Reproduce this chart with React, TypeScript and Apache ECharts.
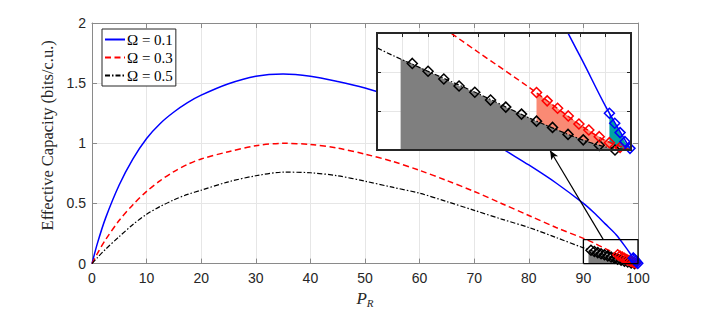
import React, { useEffect, useRef } from "react";
import * as echarts from "echarts";

// ---- data ----
const P_R = [0, 1, 2.5, 5, 7.5, 10, 12.5, 15, 17.5, 20, 25, 30, 35, 40, 45, 50, 55, 60, 65, 70, 75, 80, 85, 90, 92, 94, 96, 98, 99, 100];
const omega01 = [0, 0.17, 0.38, 0.655, 0.87, 1.04, 1.165, 1.26, 1.338, 1.4, 1.495, 1.558, 1.577, 1.558, 1.514, 1.46, 1.39, 1.32, 1.23, 1.11, 0.96, 0.82, 0.67, 0.5, 0.42, 0.33, 0.24, 0.12, 0.056, 0];
const omega03 = [0, 0.085, 0.2, 0.36, 0.49, 0.6, 0.69, 0.765, 0.825, 0.87, 0.93, 0.98, 1.0, 0.99, 0.96, 0.91, 0.85, 0.775, 0.69, 0.6, 0.5, 0.4, 0.3, 0.21, 0.17, 0.125, 0.08, 0.032, 0.012, 0];
const omega05 = [0, 0.05, 0.12, 0.225, 0.325, 0.41, 0.475, 0.53, 0.575, 0.61, 0.68, 0.73, 0.76, 0.755, 0.73, 0.685, 0.635, 0.585, 0.515, 0.443, 0.37, 0.3, 0.217, 0.131, 0.101, 0.072, 0.041, 0.014, 0.004, 0];

const seriesNames = ["Ω = 0.1", "Ω = 0.3", "Ω = 0.5"];

// markers (diamonds) in the zoomed region
const blackMarkX = [91.39, 92.01, 92.63, 93.23, 93.85, 94.47, 95.07, 95.69, 96.28, 96.91, 97.52, 98.12, 98.75, 99.37];
const blackMarkY = [0.111, 0.101, 0.091, 0.082, 0.074, 0.064, 0.055, 0.046, 0.037, 0.029, 0.02, 0.013, 0.006, 0.0];
const redMarkX = [96.28, 96.7, 97.11, 97.53, 97.95, 98.34, 98.75, 99.15, 99.57];
const redMarkY = [0.0737, 0.063, 0.0536, 0.0437, 0.0334, 0.0257, 0.0171, 0.0094, 0.0034];
const blueMarkX = [99.15, 99.36, 99.57, 99.76, 99.96];
const blueMarkY = [0.0471, 0.0343, 0.0223, 0.0107, 0.0021];
// gray shaded region starts here (on the Ω = 0.5 curve)
const grayStart = [90.93, 0.117];

// zoom box and arrow (data coordinates of the main axes)
const zoomBoxX = [90, 100];
const zoomBoxY = [0, 0.2];
const arrowFrom = [93.6, 0.203];
const arrowTo = [83.9, 0.94];

// axis ranges
const mainXTicks = { min: 0, max: 100, interval: 10 };
const mainYTicks = { min: 0, max: 2, interval: 0.5 };
const insetXTicks = { min: 90, max: 100, interval: 1 };
const insetYTicks = { min: 0, max: 0.15, interval: 0.05 };

const pairs = (xs: number[], ys: number[]) => xs.map((x, i) => [x, ys[i]]);

const MAIN = { left: 92, top: 23, width: 546, height: 245 };
const INSET = { left: 377, top: 33, width: 254, height: 117 };

const AXIS_COLOR = "#262626";
const FRAME_COLOR = "#8a8a8a";
const GRID_COLOR = "#e6e6e6";

export default function App() {
  const ref = useRef<HTMLDivElement>(null);

  useEffect(() => {
    if (!ref.current) return;
    const chart = echarts.init(ref.current, undefined, { renderer: "svg" });

    const lineStyles = [
      { color: "#0000ff", width: 1.5, type: "solid" as any },
      { color: "#ff0000", width: 1.5, type: [6, 3.5] as any },
      { color: "#000000", width: 1.2, type: [5, 2, 1.5, 2] as any },
    ];
    const curveData = [pairs(P_R, omega01), pairs(P_R, omega03), pairs(P_R, omega05)];

    const mkAxes = (grid: number, t: any, pos: string, isX: boolean, inset: boolean, showLabel: boolean, split: boolean) => ({
      type: "value",
      gridIndex: grid,
      position: pos,
      min: t.min,
      max: t.max,
      interval: t.interval,
      z: inset ? 6 : 0,
      axisLine: { show: true, onZero: false, lineStyle: { color: inset ? AXIS_COLOR : FRAME_COLOR, width: 1 } },
      axisTick: { show: true, inside: true, length: inset ? 4 : 5, lineStyle: { color: inset ? AXIS_COLOR : FRAME_COLOR } },
      axisLabel: showLabel
        ? { show: true, color: AXIS_COLOR, fontFamily: "Liberation Sans", fontSize: 14, margin: isX ? 7 : 6 }
        : { show: false },
      splitLine: { show: split, lineStyle: { color: GRID_COLOR, width: 1 } },
    });

    const xAxis: any[] = [
      {
        ...mkAxes(0, mainXTicks, "bottom", true, false, true, true),
        name: "{i|P}{s|R}",
        nameLocation: "middle",
        nameGap: 23,
        nameTextStyle: {
          rich: {
            i: { fontFamily: "Liberation Serif", fontStyle: "italic", fontSize: 17, color: AXIS_COLOR },
            s: { fontFamily: "Liberation Serif", fontStyle: "italic", fontSize: 11, color: AXIS_COLOR, padding: [9, 0, 0, 0] },
          },
        },
      },
      mkAxes(0, mainXTicks, "top", true, false, false, false),
      mkAxes(1, insetXTicks, "bottom", true, true, false, true),
      mkAxes(1, insetXTicks, "top", true, true, false, false),
    ];
    const yAxis: any[] = [
      {
        ...mkAxes(0, mainYTicks, "left", false, false, true, true),
        name: "Effective Capacity (bits/c.u.)",
        nameLocation: "middle",
        nameGap: 30,
        nameRotate: 90,
        nameTextStyle: { fontFamily: "Liberation Serif", fontSize: 16.5, color: AXIS_COLOR, padding: [0, 0, 0, 16] },
      },
      mkAxes(0, mainYTicks, "right", false, false, false, false),
      mkAxes(1, insetYTicks, "left", false, true, false, true),
      mkAxes(1, insetYTicks, "right", false, true, false, false),
    ];

    const series: any[] = [];
    // two copies: main (axes 0) and inset (axes 2)
    [0, 2].forEach((ax) => {
      const inset = ax === 2;
      const z = inset ? 7 : 2;
      curveData.forEach((d, i) => {
        series.push({
          type: "line",
          name: seriesNames[i],
          xAxisIndex: ax,
          yAxisIndex: ax,
          data: d,
          smooth: 0.3,
          showSymbol: false,
          symbol: "none",
          lineStyle: lineStyles[i],
          itemStyle: { color: lineStyles[i].color },
          clip: true,
          z,
          silent: true,
        });
      });
      const areas = [
        { data: pairs(blueMarkX, blueMarkY), color: "#00a3a3" },
        { data: pairs(redMarkX, redMarkY), color: "#fa8a74" },
        { data: [grayStart, ...pairs(blackMarkX, blackMarkY)], color: "#7f7f7f" },
      ];
      areas.forEach((a) => {
        series.push({
          type: "line",
          xAxisIndex: ax,
          yAxisIndex: ax,
          data: a.data,
          showSymbol: false,
          symbol: "none",
          lineStyle: { width: 0, color: a.color },
          areaStyle: { color: a.color, opacity: 1 },
          clip: true,
          z,
          silent: true,
        });
      });
      const marks = [
        { data: pairs(blackMarkX, blackMarkY), color: "#000000" },
        { data: pairs(redMarkX, redMarkY), color: "#ff0000" },
        { data: pairs(blueMarkX, blueMarkY), color: "#0000ff" },
      ];
      marks.forEach((m) => {
        series.push({
          type: "scatter",
          xAxisIndex: ax,
          yAxisIndex: ax,
          data: m.data,
          symbol: "diamond",
          symbolSize: 10,
          itemStyle: { color: "rgba(0,0,0,0)", borderColor: m.color, borderWidth: 1.5, opacity: 1 },
          clip: false,
          z,
          silent: true,
        });
      });
    });

    // zoom rectangle + arrow on main axes
    series.push({
      type: "line",
      xAxisIndex: 0,
      yAxisIndex: 0,
      data: [
        [zoomBoxX[0], zoomBoxY[0]],
        [zoomBoxX[0], zoomBoxY[1]],
        [zoomBoxX[1], zoomBoxY[1]],
        [zoomBoxX[1], zoomBoxY[0]],
        [zoomBoxX[0], zoomBoxY[0]],
      ],
      showSymbol: false,
      symbol: "none",
      lineStyle: { color: "#000", width: 1.3 },
      clip: false,
      z: 3,
      silent: true,
      markLine: {
        silent: true,
        symbol: ["none", "arrow"],
        symbolSize: [6, 9],
        label: { show: false },
        lineStyle: { color: "#000", width: 1.2, type: "solid" },
        data: [[{ coord: arrowFrom }, { coord: arrowTo }]],
      },
    });

    chart.setOption({
      animation: false,
      backgroundColor: "#ffffff",
      grid: [
        { ...MAIN, containLabel: false },
        { ...INSET, containLabel: false },
      ],
      xAxis,
      yAxis,
      legend: {
        data: seriesNames,
        orient: "vertical",
        left: 102,
        top: 29,
        itemWidth: 20,
        itemHeight: 12,
        itemGap: 3,
        padding: [3, 3, 3, 2],
        backgroundColor: "#ffffff",
        borderColor: "#262626",
        borderWidth: 1,
        itemStyle: { opacity: 0 },
        textStyle: { fontFamily: "Liberation Serif", fontSize: 15, color: "#000", padding: [0, 0, 0, -3] },
        selectedMode: false,
      },
      graphic: [
        {
          type: "rect",
          z: 5,
          silent: true,
          shape: { x: INSET.left, y: INSET.top, width: INSET.width, height: INSET.height },
          style: { fill: "#ffffff", stroke: "none" },
        },
        {
          type: "rect",
          z: 20,
          silent: true,
          shape: { x: INSET.left, y: INSET.top, width: INSET.width, height: INSET.height },
          style: { fill: "none", stroke: "#262626", lineWidth: 2 },
        },
      ],
      series,
    });

    return () => chart.dispose();
  }, []);

  return (
    <div
      ref={ref}
      style={{ position: "fixed", left: 0, top: 0, width: 706, height: 313, background: "#fff" }}
    />
  );
}
